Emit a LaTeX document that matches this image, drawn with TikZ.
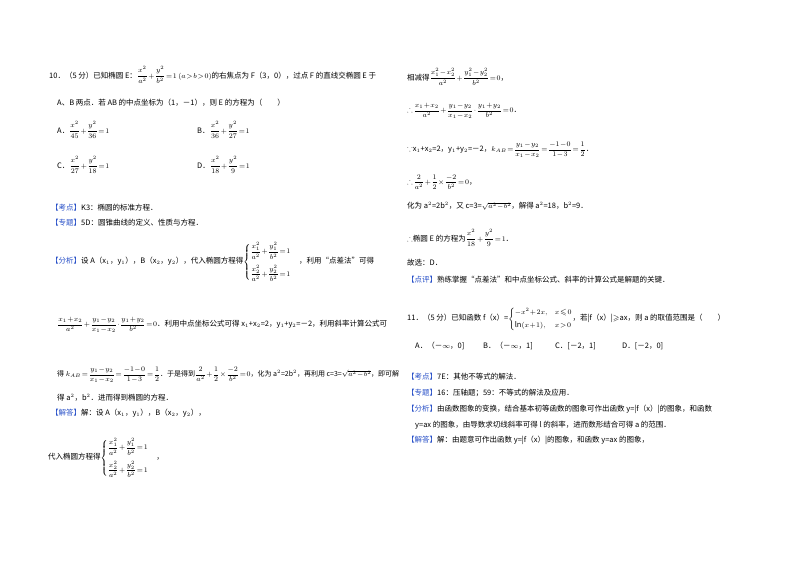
\documentclass[tikz,border=0pt]{standalone}
\usepackage{fontspec}
\usepackage{amsmath,amssymb}
\setmainfont{Noto Sans CJK SC}
\definecolor{lblue}{RGB}{40,80,200}
\newcommand{\lab}[1]{\textcolor{lblue}{【#1】}}
\newcommand{\fr}[2]{\dfrac{#1}{#2}}
\medmuskip=1mu plus 1mu
\thickmuskip=1.5mu plus 1mu
\begin{document}
\begin{tikzpicture}[x=1pt,y=-1pt,
  t/.style={anchor=west,inner sep=0pt,font=\fontsize{7.5}{9}\selectfont}]
\useasboundingbox[fill=white] (0,0) rectangle (800,565);
% left column
\node[t] (l1) at (49,75) {10．（5 分）已知椭圆 E：$\fr{x^2}{a^2}+\fr{y^2}{b^2}=1\,(a>b>0)$的右焦点为 F（3，0），过点 F 的直线交椭圆 E 于};
\node[t] (l2) at (57,103) {A、B 两点．若 AB 的中点坐标为（1，－1），则 E 的方程为（\quad\quad）};
\node[t] (oa) at (57,130) {A．$\fr{x^2}{45}+\fr{y^2}{36}=1$};
\node[t] (ob) at (197,130) {B．$\fr{x^2}{36}+\fr{y^2}{27}=1$};
\node[t] (oc) at (57,165) {C．$\fr{x^2}{27}+\fr{y^2}{18}=1$};
\node[t] (od) at (197,165) {D．$\fr{x^2}{18}+\fr{y^2}{9}=1$};
\node[t] (kd) at (51,208) {\lab{考点}K3：椭圆的标准方程．};
\node[t] (zt) at (51,223) {\lab{专题}5D：圆锥曲线的定义、性质与方程．};
\node[t] (fx) at (51,262) {\lab{分析}设 A（x$_1$，y$_1$），B（x$_2$，y$_2$），代入椭圆方程得$\begin{cases}\fr{x_1^2}{a^2}+\fr{y_1^2}{b^2}=1\\[8pt] \fr{x_2^2}{a^2}+\fr{y_2^2}{b^2}=1\end{cases}$，利用“点差法”可得};
\node[t] (f2) at (57,325) {$\fr{x_1+x_2}{a^2}+\fr{y_1-y_2}{x_1-x_2}\cdot\fr{y_1+y_2}{b^2}=0$．利用中点坐标公式可得 x$_1$+x$_2$=2，y$_1$+y$_2$=－2，利用斜率计算公式可};
\node[t,font=\fontsize{7}{9}\selectfont] (f3) at (57,375) {得 $k_{AB}=\fr{y_1-y_2}{x_1-x_2}=\fr{-1-0}{1-3}=\fr12$．于是得到$\fr{2}{a^2}+\fr12\times\fr{-2}{b^2}=0$，化为 a$^2$=2b$^2$，再利用 c=3=$\sqrt{a^2-b^2}$，即可解};
\node[t] (f4) at (57,398) {得 a$^2$，b$^2$．进而得到椭圆的方程．};
\node[t] (jd) at (51,413) {\lab{解答}解：设 A（x$_1$，y$_1$），B（x$_2$，y$_2$），};
\node[t] (j2) at (48,458) {代入椭圆方程得$\begin{cases}\fr{x_1^2}{a^2}+\fr{y_1^2}{b^2}=1\\[8pt] \fr{x_2^2}{a^2}+\fr{y_2^2}{b^2}=1\end{cases}$，};
% right column
\node[t] (r1) at (407,77) {相减得$\fr{x_1^2-x_2^2}{a^2}+\fr{y_1^2-y_2^2}{b^2}=0$，};
\node[t] (r2) at (407,111) {$\therefore\fr{x_1+x_2}{a^2}+\fr{y_1-y_2}{x_1-x_2}\cdot\fr{y_1+y_2}{b^2}=0$．};
\node[t] (r3) at (407,150) {$\because$x$_1$+x$_2$=2，y$_1$+y$_2$=－2，$k_{AB}=\fr{y_1-y_2}{x_1-x_2}=\fr{-1-0}{1-3}=\fr12$．};
\node[t] (r4) at (407,182) {$\therefore\fr{2}{a^2}+\fr12\times\fr{-2}{b^2}=0$，};
\node[t] (r5) at (407,206) {化为 a$^2$=2b$^2$，又 c=3=$\sqrt{a^2-b^2}$，解得 a$^2$=18，b$^2$=9．};
\node[t] (r6) at (407,238) {$\therefore$椭圆 E 的方程为$\fr{x^2}{18}+\fr{y^2}{9}=1$．};
\node[t] (r7) at (407,263) {故选：D．};
\node[t] (r8) at (407,280) {\lab{点评}熟练掌握“点差法”和中点坐标公式、斜率的计算公式是解题的关键．};
\node[t] (q11) at (407,319) {11．（5 分）已知函数 f（x）=$\begin{cases}-x^2+2x, & x\leqslant 0\\[2pt] \ln(x+1), & x>0\end{cases}$，若|f（x）|$\geqslant$ax，则 a 的取值范围是（\quad\quad）};
\node[t] (pa) at (415,346) {A．（－$\infty$，0]};
\node[t] (pb) at (483,346) {B．（－$\infty$，1]};
\node[t] (pc) at (555,346) {C．[－2，1]};
\node[t] (pd) at (622,346) {D．[－2，0]};
\node[t] (k2) at (407,377) {\lab{考点}7E：其他不等式的解法．};
\node[t] (z2) at (407,393) {\lab{专题}16：压轴题；59：不等式的解法及应用．};
\node[t] (a2) at (407,409) {\lab{分析}由函数图象的变换，结合基本初等函数的图象可作出函数 y=|f（x）|的图象，和函数};
\node[t] (a3) at (415,425) {y=ax 的图象，由导数求切线斜率可得 l 的斜率，进而数形结合可得 a 的范围．};
\node[t] (j3) at (407,440) {\lab{解答}解：由题意可作出函数 y=|f（x）|的图象，和函数 y=ax 的图象，};
\end{tikzpicture}
\end{document}
